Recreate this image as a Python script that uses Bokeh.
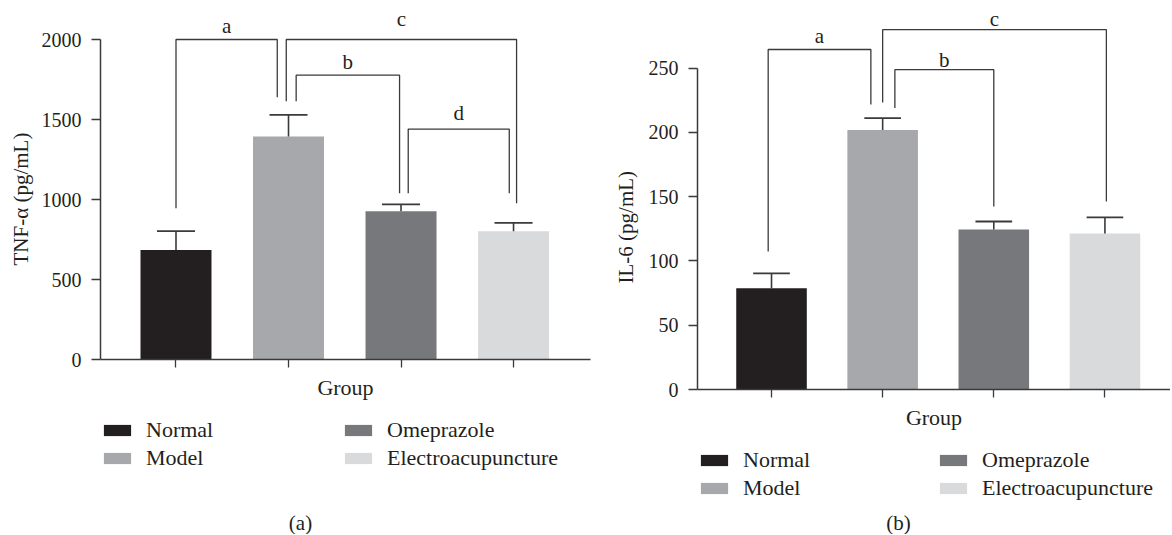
from bokeh.plotting import figure
from bokeh.models import (FixedTicker, Legend, LegendItem, Label, ColumnDataSource, Range1d, Title)
from bokeh.layouts import row, column
from bokeh.embed import file_html
from bokeh.resources import INLINE
from bokeh.core.properties import value

# ---------------- data ----------------
groups = ["Normal", "Model", "Omeprazole", "Electroacupuncture"]
bar_colors = ["#231f20", "#a7a8ab", "#77787b", "#d9dadb"]

tnf_mean = [685, 1394, 927, 802]
tnf_err = [117, 135, 43, 52]
tnf_ticks = [0, 500, 1000, 1500, 2000]

il6_mean = [78.8, 201.8, 124.5, 121.4]
il6_err = [11.5, 9.3, 6.2, 12.5]
il6_ticks = [0, 50, 100, 150, 200, 250]

# significance brackets (label, left group, right group, leg bottoms, top)
tnf_sig_labels = ["a", "b", "c", "d"]
tnf_sig_left = [0, 1, 1, 2]
tnf_sig_right = [1, 2, 3, 3]
tnf_sig_left_low = [946, 1614, 1614, 1039]
tnf_sig_right_low = [1639, 1039, 977, 1039]
tnf_sig_top = [2000, 1777, 2000, 1440]

il6_sig_labels = ["a", "b", "c"]
il6_sig_left = [0, 1, 1]
il6_sig_right = [1, 2, 3]
il6_sig_left_low = [107.4, 218.9, 223.3]
il6_sig_right_low = [221.8, 142.4, 146.3]
il6_sig_top = [264.5, 248.8, 279.9]

# ---------------- styles ----------------
FONT = "Liberation Serif"
INK = "#231f20"
LINE = "#3a3a3a"

tnf_leg_dx_left = [0.0, 0.068, -0.02, 0.064]
tnf_leg_dx_right = [-0.1, -0.013, 0.027, -0.038]
tnf_lbl_up = [14, 13, 21, 16]

il6_leg_dx_left = [-0.03, 0.11, 0.0]
il6_leg_dx_right = [-0.106, 0.0, 0.013]
il6_lbl_up = [14, 10, 11]


def style_fig(p):
    p.outline_line_color = None
    p.background_fill_color = "white"
    p.border_fill_color = "white"


def make_panel(means, errs, ticks, ylabel, sig, geo):
    (labels, left, right, llow, rlow, top, dxl, dxr, up) = sig
    W = geo["W"]
    main_h = 8 + geo["fh"] + geo["mbb"]
    p = figure(x_range=Range1d(*geo["xr"]), y_range=Range1d(0, geo["ytop"]),
               width=W, height=main_h,
               frame_width=geo["fw"], frame_height=geo["fh"],
               min_border_left=geo["mbl"], min_border_right=W - geo["mbl"] - geo["fw"],
               min_border_top=8, min_border_bottom=geo["mbb"],
               output_backend="svg", toolbar_location=None, tools="")
    style_fig(p)
    p.xgrid.visible = False
    p.ygrid.visible = False

    xs = list(range(len(groups)))
    src = ColumnDataSource(dict(x=xs, top=means, color=bar_colors, group=groups,
                                etop=[m + e for m, e in zip(means, errs)]))
    p.vbar(x="x", top="top", bottom=0, width=geo["bw"], fill_color="color",
           line_color=None, source=src)
    # error bars (upper only)
    p.segment(x0="x", y0="top", x1="x", y1="etop", line_color=LINE, line_width=1.6, source=src)
    cap = geo["cap"]
    p.segment(x0=[x - cap for x in xs], y0=src.data["etop"], x1=[x + cap for x in xs],
              y1=src.data["etop"], line_color=LINE, line_width=1.8)

    # brackets
    bx, by, mx = [], [], []
    for i in range(len(labels)):
        xl = left[i] + dxl[i]
        xr = right[i] + dxr[i]
        bx.append([xl, xl, xr, xr])
        by.append([llow[i], top[i], top[i], rlow[i]])
        mx.append((xl + xr) / 2)
    p.multi_line(xs=bx, ys=by, line_color=LINE, line_width=1.3)
    p.text(x=mx, y=top, text=labels, y_offset=[-u for u in up], text_align="center",
           text_baseline="middle", text_font=value(FONT), text_font_size="21px",
           text_color=INK)

    # y axis
    ya = p.yaxis[0]
    ya.ticker = FixedTicker(ticks=ticks)
    ya.bounds = (ticks[0], ticks[-1])
    ya.major_tick_out = 9
    ya.major_tick_in = 0
    ya.minor_tick_out = 0
    ya.minor_tick_in = 0
    ya.axis_line_width = 1.5
    ya.axis_line_color = LINE
    ya.major_tick_line_color = LINE
    ya.major_tick_line_width = 1.3
    ya.major_label_text_font = FONT
    ya.major_label_text_font_size = "20px"
    ya.major_label_text_color = INK
    ya.major_label_standoff = 10
    # y label as a side title so it can be centred on the 0..max span
    p.add_layout(Title(text=ylabel, align="left", offset=geo["yoff"], vertical_align="bottom",
                       standoff=geo["ystand"], text_font=FONT, text_font_size="21px",
                       text_font_style="normal", text_color=INK), "left")

    # x axis
    xa = p.xaxis[0]
    xa.ticker = FixedTicker(ticks=xs)
    xa.major_label_overrides = {x: "" for x in xs}
    xa.major_tick_out = 8
    xa.major_tick_in = 0
    xa.minor_tick_out = 0
    xa.minor_tick_in = 0
    xa.axis_line_width = 1.5
    xa.axis_line_color = LINE
    xa.major_tick_line_color = LINE
    xa.major_tick_line_width = 1.3
    xa.major_label_text_font_size = "10px"
    xa.major_label_standoff = 0
    xa.axis_label = "Group"
    xa.axis_label_text_font = FONT
    xa.axis_label_text_font_style = "normal"
    xa.axis_label_text_font_size = "22px"
    xa.axis_label_text_color = INK
    xa.axis_label_standoff = 7

    # legend + caption strip below the chart
    leg_h = geo["H"] - main_h
    q = figure(x_range=Range1d(0, 1), y_range=Range1d(0, 1), width=W, height=leg_h,
               frame_width=geo["fw"], frame_height=leg_h - geo["legtop"],
               min_border_left=geo["mbl"], min_border_right=W - geo["mbl"] - geo["fw"],
               min_border_top=geo["legtop"], min_border_bottom=0,
               x_axis_type=None, y_axis_type=None,
               output_backend="svg", toolbar_location=None, tools="")
    style_fig(q)
    q.xgrid.visible = False
    q.ygrid.visible = False
    # legend-only renderer (hidden) carrying the group colours
    lsrc = ColumnDataSource(dict(x=xs, top=means, color=bar_colors))
    sw = q.vbar(x="x", top="top", bottom=0, width=0.5, fill_color="color",
                line_color=None, source=lsrc, visible=False)
    items = [LegendItem(label=g, renderers=[sw], index=i) for i, g in enumerate(groups)]
    legend = Legend(items=items, location="top_left", orientation="vertical", nrows=2,
                    glyph_width=34, glyph_height=14, label_standoff=12,
                    label_width=geo["lw"], label_height=23, spacing=2, padding=0, margin=0,
                    border_line_color=None, background_fill_alpha=0,
                    inactive_fill_alpha=0, click_policy="none",
                    label_text_font=FONT, label_text_font_size="22px",
                    label_text_color=INK)
    q.add_layout(legend)
    q.add_layout(Label(x=geo["capx"], y=geo["capy"], x_units="screen", y_units="screen",
                       text=geo["caption"], text_align="center", text_baseline="middle",
                       text_font=FONT, text_font_size="21px", text_color=INK))
    return column(p, q, spacing=0)


H = 534
pa = make_panel(tnf_mean, tnf_err, tnf_ticks, "TNF-α (pg/mL)",
                (tnf_sig_labels, tnf_sig_left, tnf_sig_right, tnf_sig_left_low,
                 tnf_sig_right_low, tnf_sig_top, tnf_leg_dx_left, tnf_leg_dx_right, tnf_lbl_up),
                dict(W=602, H=H, xr=(-0.671, 3.684), ytop=2193.75, fw=490, fh=351, mbl=100,
                     mbb=45, yoff=94, ystand=12, bw=0.631, cap=0.169, lw=193, legtop=13,
                     capx=200, capy=12, caption="(a)"))

pb = make_panel(il6_mean, il6_err, il6_ticks, "IL-6 (pg/mL)",
                (il6_sig_labels, il6_sig_left, il6_sig_right, il6_sig_left_low,
                 il6_sig_right_low, il6_sig_top, il6_leg_dx_left, il6_leg_dx_right, il6_lbl_up),
                dict(W=568, H=H, xr=(-0.666, 3.59), ytop=296.4, fw=473, fh=381, mbl=95,
                     mbb=45, yoff=106, ystand=16, bw=0.635, cap=0.165, lw=191, legtop=13,
                     capx=201, capy=12, caption="(b)"))

layout = row(pa, pb, spacing=0)
open("out.html", "w").write(file_html(layout, INLINE))
